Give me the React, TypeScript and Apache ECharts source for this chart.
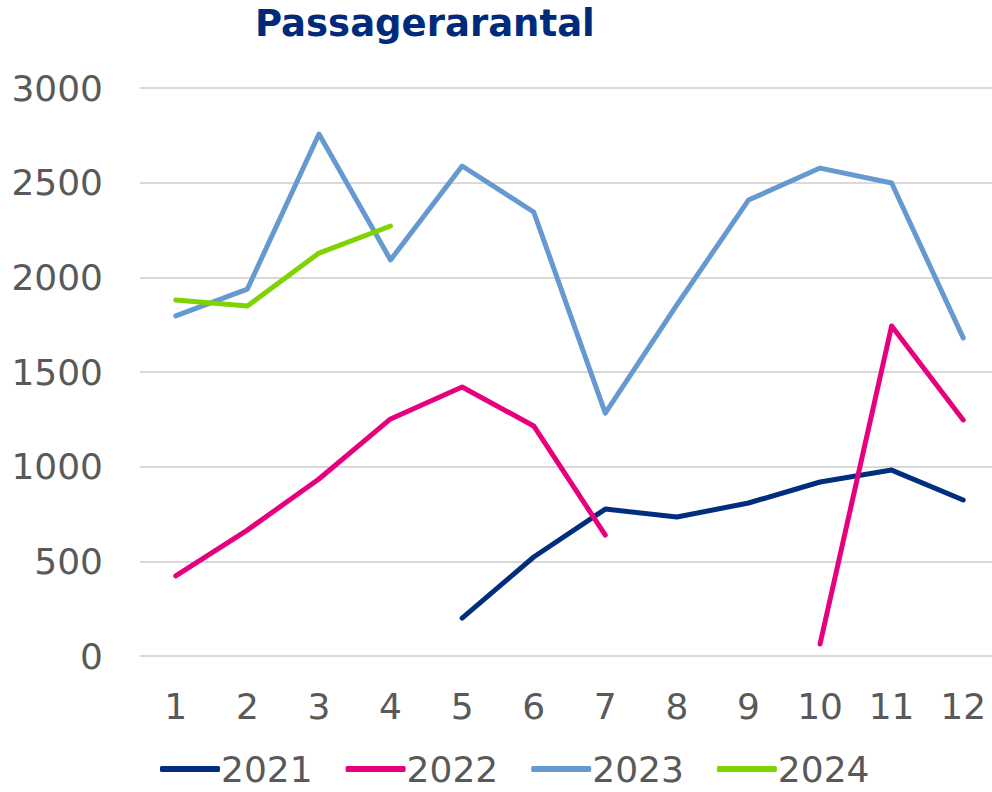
import React, { useEffect, useRef } from "react";
import * as echarts from "echarts";

const months = ["1", "2", "3", "4", "5", "6", "7", "8", "9", "10", "11", "12"];
const s2021 = [null, null, null, null, 200, 523, 776, 734, 808, 919, 982, 824];
const s2022 = [423, 665, 935, 1252, 1421, 1215, 639, null, null, 63, 1743, 1246];
const s2023 = [1796, 1938, 2757, 2092, 2588, 2345, 1283, 1854, 2408, 2577, 2498, 1680];
const s2024 = [1880, 1849, 2128, 2271, null, null, null, null, null, null, null, null];
const seriesNames = ["2021", "2022", "2023", "2024"];
const colors = ["#002d7d", "#e6007e", "#6699cf", "#7fd300"];

export default function App() {
  const ref = useRef<HTMLDivElement>(null);
  useEffect(() => {
    document.body.style.margin = "0";
    document.body.style.overflow = "hidden";
    const chart = echarts.init(ref.current!, null, { renderer: "svg" });
    const font = "DejaVu Sans, Verdana, sans-serif";
    const data = [s2021, s2022, s2023, s2024];
    chart.setOption({
      animation: false,
      color: colors,
      title: {
        text: "Passagerarantal",
        left: 250,
        top: 0,
        textStyle: { fontFamily: font, fontWeight: "bold", fontSize: 37, color: "#002b7a" },
      },
      legend: {
        bottom: 0,
        left: 155,
        icon: "roundRect",
        itemWidth: 60,
        itemHeight: 6,
        itemGap: 33,
        textStyle: { fontFamily: font, fontSize: 36, color: "#595959", padding: [0, 0, 0, -4] },
        data: seriesNames,
      },
      grid: { left: 140, right: 11, top: 88, bottom: 136 },
      xAxis: {
        type: "category",
        data: months,
        boundaryGap: true,
        axisLine: { show: false },
        axisTick: { show: false },
        axisLabel: { fontFamily: font, fontSize: 36, color: "#595959", margin: 32 },
      },
      yAxis: {
        type: "value",
        min: 0,
        max: 3000,
        interval: 500,
        axisLine: { show: false },
        axisTick: { show: false },
        splitLine: { lineStyle: { color: "#d9d9d9", width: 2 } },
        axisLabel: {
          fontFamily: font,
          fontSize: 36,
          color: "#595959",
          margin: 37,
          formatter: (v: number) => String(v),
        },
      },
      series: seriesNames.map((n, i) => ({
        name: n,
        type: "line",
        data: data[i],
        symbol: "none",
        connectNulls: false,
        lineStyle: { width: 5, color: colors[i], cap: "round", join: "round" },
        itemStyle: { color: colors[i] },
      })),
    });
    return () => chart.dispose();
  }, []);
  return <div ref={ref} style={{ width: 1010, height: 792 }} />;
}
